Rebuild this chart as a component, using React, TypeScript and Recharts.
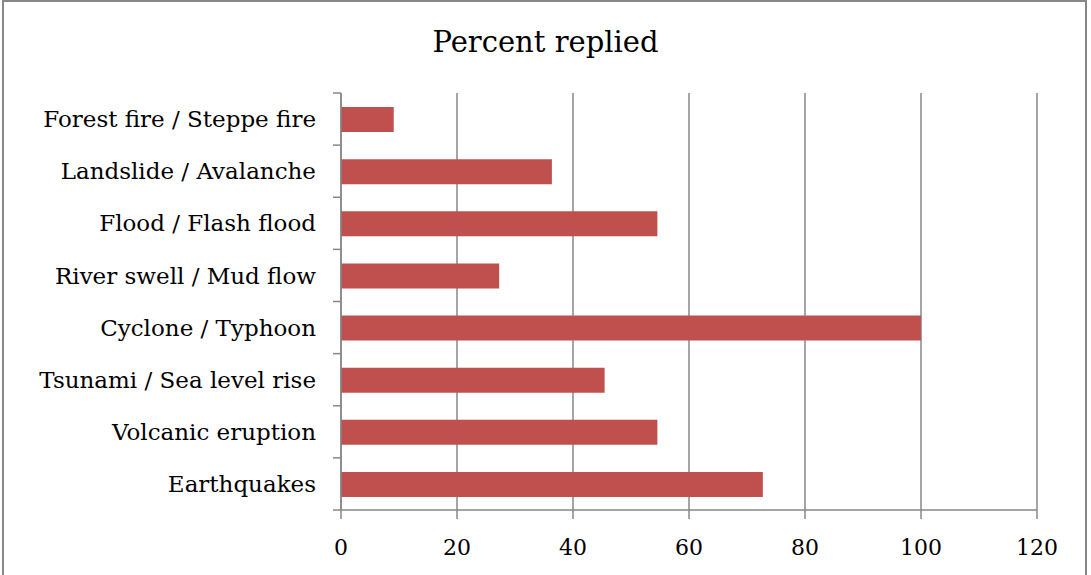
import React from 'react';
import { BarChart, Bar, XAxis, YAxis, CartesianGrid } from 'recharts';

const hazards = [
  'Forest fire / Steppe fire',
  'Landslide / Avalanche',
  'Flood / Flash flood',
  'River swell / Mud flow',
  'Cyclone / Typhoon',
  'Tsunami / Sea level rise',
  'Volcanic eruption',
  'Earthquakes',
];
const percentReplied = [9.09, 36.36, 54.55, 27.27, 100, 45.45, 54.55, 72.73];
const xTicks = [0, 20, 40, 60, 80, 100, 120];

const data = hazards.map((name, i) => ({ name, value: percentReplied[i] }));

const FONT = '"DejaVu Serif", serif';
const GREY = '#878787';
const LABEL_GAP = 25;
const MARK = 8;

// Excel puts the category tick marks between the bands, not at their centres
const CategoryTick = (props: any) => {
  const { x, y, payload, index, visibleTicksCount } = props;
  const axisX = x + LABEL_GAP;
  const half = payload.offset || 0;
  const isLast = index === visibleTicksCount - 1;
  return (
    <g>
      <line x1={axisX - MARK} x2={axisX} y1={y - half} y2={y - half} stroke={GREY} strokeWidth={1.5} />
      {isLast && (
        <line x1={axisX - MARK} x2={axisX} y1={y + half} y2={y + half} stroke={GREY} strokeWidth={1.5} />
      )}
      <text x={x} y={y} dy="0.355em" textAnchor="end" fill="#000" fontFamily={FONT} fontSize={23}>
        {payload.value}
      </text>
    </g>
  );
};

const App = () => {
  return (
    <div style={{ position: 'absolute', left: 0, top: 0, width: 1091, height: 575, overflow: 'hidden', background: '#fff' }}>
      <div
        style={{
          position: 'absolute',
          left: 2,
          top: 0,
          width: 1085,
          height: 590,
          border: `2px solid ${GREY}`,
          boxSizing: 'border-box',
        }}
      />
      <div
        style={{
          position: 'absolute',
          left: 0,
          top: 25,
          width: 1091,
          textAlign: 'center',
          fontFamily: FONT,
          fontSize: 29,
          color: '#000',
        }}
      >
        Percent replied
      </div>
      <div style={{ position: 'absolute', left: 0, top: 0 }}>
        <BarChart
          width={1091}
          height={575}
          data={data}
          layout="vertical"
          margin={{ top: 93, right: 54, bottom: 0, left: 0 }}
        >
          <CartesianGrid horizontal={false} stroke={GREY} strokeWidth={1.5} />
          <XAxis
            type="number"
            domain={[0, 120]}
            ticks={xTicks}
            interval={0}
            stroke={GREY}
            strokeWidth={1.5}
            tickSize={9}
            tickMargin={20}
            height={65}
            tick={{ fill: '#000', fontFamily: FONT, fontSize: 22 }}
          />
          <YAxis
            type="category"
            dataKey="name"
            width={341}
            interval={0}
            stroke={GREY}
            strokeWidth={1.5}
            tickLine={false}
            tickSize={0}
            tickMargin={LABEL_GAP}
            tick={<CategoryTick />}
          />
          <Bar dataKey="value" fill="#C0504D" barSize={25} isAnimationActive={false} />
        </BarChart>
      </div>
    </div>
  );
};

export default App;
